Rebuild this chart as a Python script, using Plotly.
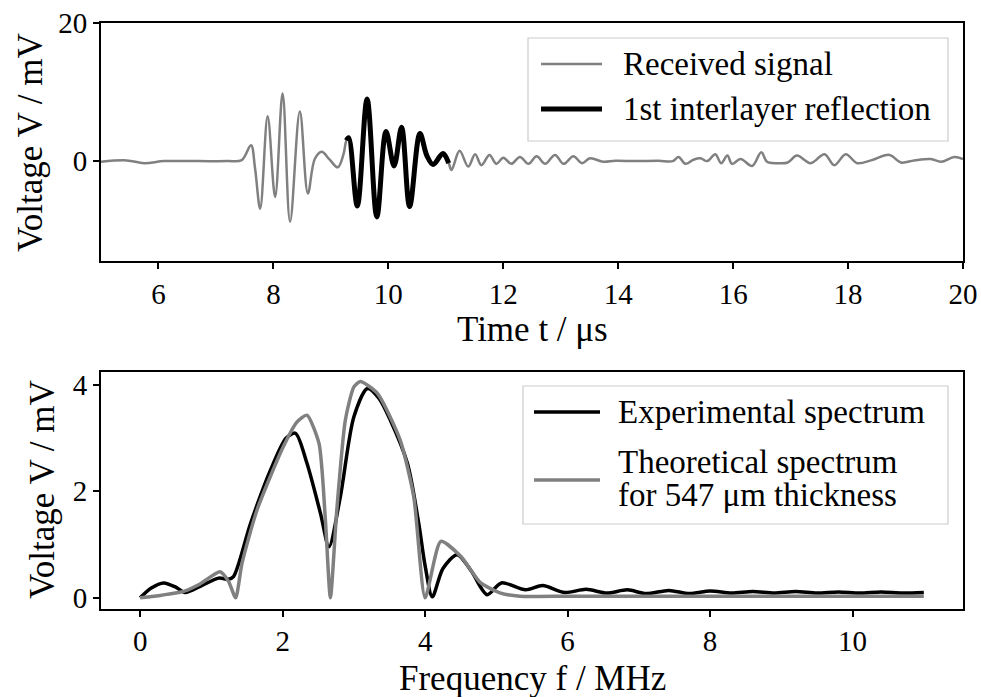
import plotly.graph_objects as go

W, H = 981, 697
FONT = "Liberation Serif"
FS_TICK = 29
FS_LEG = 33
FS_TITLE = 35
GRAY = "#808080"

# ---------------- data: top panel (received signal) ----------------
time_us = [5.0, 5.45, 5.75, 6.1, 6.7, 7.2, 7.45,
           7.61, 7.68, 7.77, 7.90, 8.03, 8.16, 8.29, 8.46, 8.60, 8.72, 8.84, 8.98, 9.12, 9.22,
           9.27, 9.31, 9.46, 9.63, 9.80, 9.96, 10.10, 10.23, 10.37, 10.55, 10.67, 10.78, 10.95, 11.05,
           11.10, 11.24, 11.39, 11.51, 11.62, 11.76, 11.88, 12.00, 12.14, 12.29, 12.44, 12.58,
           12.73, 12.90, 13.05, 13.22, 13.37, 13.51, 13.74, 13.95, 14.3, 14.7, 14.95,
           15.05, 15.17, 15.31, 15.43, 15.55, 15.69, 15.79, 15.90, 15.98, 16.13, 16.33, 16.49,
           16.59, 16.77, 16.95, 17.11, 17.35, 17.59, 17.76, 17.96, 18.16, 18.4, 18.72, 18.92,
           19.15, 19.44, 19.62, 19.85, 20.0]
signal_mV = [-0.1, 0.1, -0.3, 0.0, 0.0, 0.0, 0.15,
             2.3, -1.0, -6.9, 6.5, -5.2, 9.8, -8.8, 7.2, -4.7, 0.3, 1.35, 0.2, -0.9, 1.0,
             3.0, 3.4, -6.5, 9.0, -8.1, 4.3, -0.7, 4.9, -6.6, 4.0, 0.8, -0.5, 1.1, -0.3,
             -1.3, 1.5, -0.8, 1.0, -0.6, 0.9, -0.4, 0.5, -0.4, 0.6, -0.4, 0.7,
             -0.4, 0.9, -0.4, 0.7, -0.3, 0.4, -0.1, 0.05, 0.0, 0.05, 0.0,
             0.6, -0.4, 0.2, 0.4, 0.0, 1.0, -0.3, 0.8, -0.4, 0.3, -0.7, 1.3,
             -0.1, -0.3, -0.2, 0.8, -0.3, 1.0, -0.6, 1.0, -0.3, 0.1, 0.9, -0.2,
             0.1, 0.3, -0.1, 0.6, 0.3]
reflection_window_us = (9.27, 11.05)

# ---------------- data: bottom panel (spectra) ----------------
freq_exp_MHz = [0.0, 0.15, 0.33, 0.5, 0.63, 0.85, 1.10, 1.24, 1.31, 1.55, 1.83, 2.05, 2.18,
                2.34, 2.53, 2.65, 2.81, 3.0, 3.19, 3.35, 3.51, 3.75, 3.91, 4.0, 4.10, 4.25,
                4.45, 4.65, 4.87, 5.07, 5.41, 5.65, 5.96, 6.26, 6.55, 6.84, 7.10, 7.42, 7.71,
                8.00, 8.3, 8.6, 8.9, 9.2, 9.5, 9.8, 10.1, 10.4, 10.7, 11.0]
spec_exp_mV = [0.0, 0.18, 0.28, 0.2, 0.1, 0.22, 0.37, 0.35, 0.40, 1.4, 2.4, 3.0, 3.09,
               2.53, 1.59, 0.96, 1.9, 3.4, 3.93, 3.75, 3.34, 2.53, 1.4, 0.6, 0.02, 0.55,
               0.81, 0.5, 0.06, 0.28, 0.15, 0.23, 0.1, 0.16, 0.09, 0.15, 0.08, 0.14, 0.08,
               0.13, 0.09, 0.12, 0.09, 0.12, 0.09, 0.11, 0.09, 0.11, 0.09, 0.1]

freq_theo_MHz = [0.0, 0.3, 0.61, 0.84, 1.12, 1.24, 1.34, 1.43, 1.64, 2.01, 2.2, 2.34, 2.51,
                 2.60, 2.67, 2.76, 2.88, 3.0, 3.09, 3.33, 3.65, 3.84, 4.0, 4.22, 4.5, 4.78,
                 5.06, 5.33, 6.0, 7.0, 8.0, 9.0, 10.0, 11.0]
spec_theo_mV = [0.0, 0.05, 0.12, 0.26, 0.49, 0.31, 0.0, 0.65, 1.65, 2.84, 3.3, 3.43, 2.9,
                1.46, 0.0, 1.65, 3.34, 3.96, 4.06, 3.84, 2.96, 1.9, 0.0, 1.06, 0.78, 0.28,
                0.09, 0.03, 0.03, 0.03, 0.03, 0.03, 0.03, 0.03]

x_ticks_time = [6, 8, 10, 12, 14, 16, 18, 20]
y_ticks_time = [0, 20]
x_ticks_freq = [0, 2, 4, 6, 8, 10]
y_ticks_freq = [0, 2, 4]

legend_top = ["Received signal", "1st interlayer reflection"]
legend_bottom = ["Experimental spectrum", "Theoretical spectrum", "for 547 μm thickness"]
title_time = "Time t / μs"
title_freq = "Frequency f / MHz"
title_volt = "Voltage V / mV"

# ---------------- figure ----------------
def px(x):
    return x / W


def py(y):
    return 1 - y / H


refl_t = [t for t in time_us if reflection_window_us[0] <= t <= reflection_window_us[1]]
refl_v = [v for t, v in zip(time_us, signal_mV) if reflection_window_us[0] <= t <= reflection_window_us[1]]

fig = go.Figure()
fig.add_trace(go.Scatter(x=time_us, y=signal_mV, mode="lines", name=legend_top[0],
                         line=dict(color=GRAY, width=2.5, shape="spline", smoothing=1.0),
                         xaxis="x", yaxis="y", showlegend=False))
fig.add_trace(go.Scatter(x=refl_t, y=refl_v, mode="lines", name=legend_top[1],
                         line=dict(color="black", width=5, shape="spline", smoothing=1.0),
                         xaxis="x", yaxis="y", showlegend=False))
fig.add_trace(go.Scatter(x=freq_exp_MHz, y=spec_exp_mV, mode="lines", name=legend_bottom[0],
                         line=dict(color="black", width=3.5, shape="spline", smoothing=0.8),
                         xaxis="x2", yaxis="y2", showlegend=False))
fig.add_trace(go.Scatter(x=freq_theo_MHz, y=spec_theo_mV, mode="lines", name=legend_bottom[1],
                         line=dict(color=GRAY, width=3.5, shape="spline", smoothing=0.6),
                         xaxis="x2", yaxis="y2", showlegend=False))

axis_common = dict(showline=True, linecolor="black", linewidth=2, mirror=True,
                   ticks="outside", ticklen=6, tickwidth=1.5, tickcolor="black",
                   showgrid=False, zeroline=False, automargin=False,
                   tickfont=dict(family=FONT, size=FS_TICK, color="black"))

xdom = [px(101), px(963)]
fig.update_layout(
    width=W, height=H,
    margin=dict(l=0, r=0, t=0, b=0, autoexpand=False),
    paper_bgcolor="white", plot_bgcolor="white",
    font=dict(family=FONT, size=FS_TICK, color="black"),
    xaxis=dict(domain=xdom, range=[5, 20], tickvals=x_ticks_time, anchor="y", **axis_common),
    yaxis=dict(domain=[py(261), py(23.3)], range=[-14.5, 20], tickvals=y_ticks_time,
               anchor="x", **axis_common),
    xaxis2=dict(domain=xdom, range=[-0.55, 11.55], tickvals=x_ticks_freq, anchor="y2", **axis_common),
    yaxis2=dict(domain=[py(608.5), py(372)], range=[-0.2, 4.24], tickvals=y_ticks_freq,
                anchor="x2", **axis_common),
    showlegend=False,
)

ann = []


def text(x, y, s, size, **kw):
    d = dict(x=px(x), y=py(y), xref="paper", yref="paper", text=s, showarrow=False,
             font=dict(family=FONT, size=size, color="black"), borderpad=0)
    d.update(kw)
    ann.append(d)


# axis titles
text(30, 143, title_volt, FS_TITLE, textangle=-90, xanchor="center", yanchor="middle")
text(42, 490, title_volt, FS_TITLE, textangle=-90, xanchor="center", yanchor="middle")
text(532, 329, title_time, FS_TITLE, xanchor="center", yanchor="middle")
text(532, 678, title_freq, FS_TITLE, xanchor="center", yanchor="middle")

# legends (drawn by hand)
shapes = []
shapes.append(dict(type="rect", xref="paper", yref="paper", x0=px(528), x1=px(948),
                   y0=py(141), y1=py(38), line=dict(color="#cccccc", width=1.2),
                   fillcolor="rgba(255,255,255,0.8)", layer="above"))
shapes.append(dict(type="line", xref="paper", yref="paper", x0=px(541), x1=px(602),
                   y0=py(64), y1=py(64), line=dict(color=GRAY, width=2.5)))
shapes.append(dict(type="line", xref="paper", yref="paper", x0=px(541), x1=px(602),
                   y0=py(109), y1=py(109), line=dict(color="black", width=5)))
text(622, 64, legend_top[0], FS_LEG, xanchor="left", yanchor="middle")
text(622, 109, legend_top[1], FS_LEG, xanchor="left", yanchor="middle")

shapes.append(dict(type="rect", xref="paper", yref="paper", x0=px(523), x1=px(948),
                   y0=py(524), y1=py(386), line=dict(color="#cccccc", width=1.2),
                   fillcolor="rgba(255,255,255,0.8)", layer="above"))
shapes.append(dict(type="line", xref="paper", yref="paper", x0=px(534), x1=px(600),
                   y0=py(412), y1=py(412), line=dict(color="black", width=3.5)))
shapes.append(dict(type="line", xref="paper", yref="paper", x0=px(534), x1=px(600),
                   y0=py(480), y1=py(480), line=dict(color=GRAY, width=3.5)))
text(617, 412, legend_bottom[0], FS_LEG, xanchor="left", yanchor="middle")
text(617, 462, legend_bottom[1], FS_LEG, xanchor="left", yanchor="middle")
text(617, 495, legend_bottom[2], FS_LEG, xanchor="left", yanchor="middle")

fig.update_layout(annotations=ann, shapes=shapes)
fig.write_html("out.html",
               config={"displayModeBar": False},
               post_script="document.body.style.margin='0px';"
                           "document.body.style.overflow='hidden';")
